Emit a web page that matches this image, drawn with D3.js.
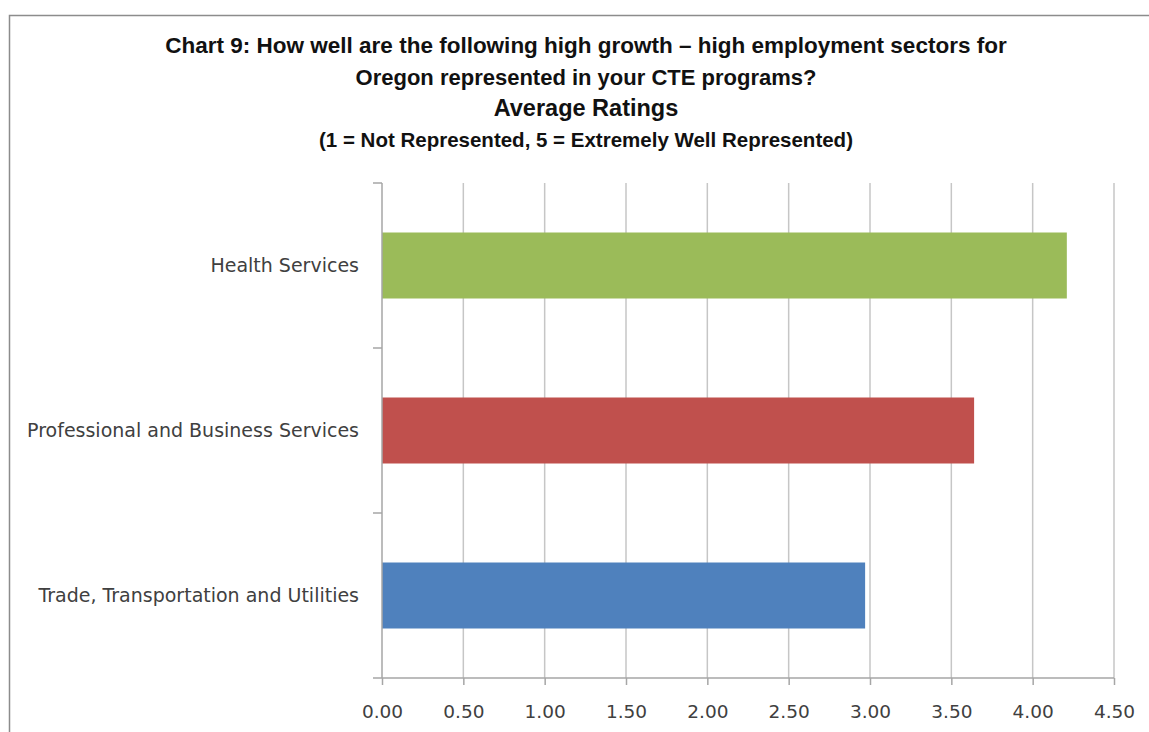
<!DOCTYPE html>
<html>
<head>
<meta charset="utf-8">
<script src="https://cdn.jsdelivr.net/npm/d3@7"></script>
<style>
  body { margin: 0; background: #fff; }
  .grid { stroke: #c6c6c6; stroke-width: 1.5; }
  .axis path, .axis line { stroke: #a6a6a6; stroke-width: 1.5; }
  .axis text { font-family: "DejaVu Sans", sans-serif; fill: #404040; }
  .title { font-family: "Liberation Sans Narrow", "Liberation Sans", sans-serif; font-weight: bold; fill: #111; }
</style>
</head>
<body>
<div class="chart"></div>
<script>
const WIDTH = 1149;
const HEIGHT = 732;

const LEFT = 382;
const RIGHT = 1114;
const TOP = 183;
const BOTTOM = 678;

// data
var categories = ["Health Services", "Professional and Business Services", "Trade, Transportation and Utilities"];
var ratings = [4.21, 3.64, 2.97];
var barColors = ["#9bbb59", "#c0504d", "#4f81bd"];
var tickValues = [0, 0.5, 1, 1.5, 2, 2.5, 3, 3.5, 4, 4.5];
var titleLines = [
  "Chart 9: How well are the following high growth \u2013 high employment sectors for",
  "Oregon represented in your CTE programs?",
  "Average Ratings",
  "(1 = Not Represented, 5 = Extremely Well Represented)"
];

var translate = function(x, y){
  return "translate(" + x + "," + y + ")";
};

var svg = d3.select(".chart").append("svg")
  .attr("width", WIDTH)
  .attr("height", HEIGHT);

// chart frame
svg.append("rect")
  .attr("x", 9.5).attr("y", 15.5)
  .attr("width", WIDTH + 20).attr("height", HEIGHT + 20)
  .attr("fill", "#fff")
  .attr("stroke", "#8c8c8c")
  .attr("stroke-width", 1.5);

// titles
var titleY = [53, 85, 116, 147];
var titleSize = [22.5, 22, 23.5, 20.5];
svg.selectAll(".title")
  .data(titleLines)
  .enter()
  .append("text")
  .attr("class", "title")
  .attr("x", 586)
  .attr("y", function(d, i){ return titleY[i]; })
  .attr("text-anchor", "middle")
  .style("font-size", function(d, i){ return titleSize[i] + "px"; })
  .text(function(d){ return d; });

var xScale = d3.scaleLinear()
  .domain([0, 4.5])
  .range([0, RIGHT - LEFT]);

var yScale = d3.scaleBand()
  .domain(categories)
  .range([0, BOTTOM - TOP])
  .paddingInner(0.6)
  .paddingOuter(0.3);

var plot = svg.append("g").attr("transform", translate(LEFT, TOP));

// vertical gridlines
plot.selectAll(".grid")
  .data(tickValues.slice(1))
  .enter()
  .append("line")
  .attr("class", "grid")
  .attr("x1", function(d){ return xScale(d); })
  .attr("x2", function(d){ return xScale(d); })
  .attr("y1", 0)
  .attr("y2", BOTTOM - TOP);

// bars
plot.selectAll(".bar")
  .data(ratings)
  .enter()
  .append("rect")
  .attr("class", "bar")
  .attr("x", 0)
  .attr("y", function(d, i){ return yScale(categories[i]); })
  .attr("width", function(d){ return xScale(d); })
  .attr("height", yScale.bandwidth())
  .attr("fill", function(d, i){ return barColors[i]; });

// x axis
var xAxis = d3.axisBottom(xScale)
  .tickValues(tickValues)
  .tickFormat(d3.format(".2f"))
  .tickSize(7)
  .tickSizeOuter(0);

plot.append("g")
  .attr("class", "axis xAxis")
  .attr("transform", translate(0, BOTTOM - TOP))
  .call(xAxis)
  .call(function(g){ g.select(".domain").attr("d", "M-9,0H" + (RIGHT - LEFT)); })
  .selectAll("text")
  .attr("y", 27)
  .attr("dy", "0.71em")
  .style("font-size", "18.5px");

// y axis: ticks at category boundaries, labels at centers
var step = yScale.step();
var boundaries = d3.range(categories.length + 1).map(function(i){ return i * step; });

var yAxis = plot.append("g").attr("class", "axis yAxis");
yAxis.append("line")
  .attr("x1", 0).attr("x2", 0)
  .attr("y1", 0).attr("y2", BOTTOM - TOP);
yAxis.selectAll(".btick")
  .data(boundaries.slice(0, -1))
  .enter()
  .append("line")
  .attr("class", "btick")
  .attr("x1", -9).attr("x2", 0)
  .attr("y1", function(d){ return d; })
  .attr("y2", function(d){ return d; });
yAxis.selectAll(".catLabel")
  .data(categories)
  .enter()
  .append("text")
  .attr("class", "catLabel")
  .attr("x", -23)
  .attr("y", function(d){ return yScale(d) + yScale.bandwidth() / 2; })
  .attr("dy", "0.35em")
  .attr("text-anchor", "end")
  .style("font-size", "19px")
  .text(function(d){ return d; });
</script>
</body>
</html>
